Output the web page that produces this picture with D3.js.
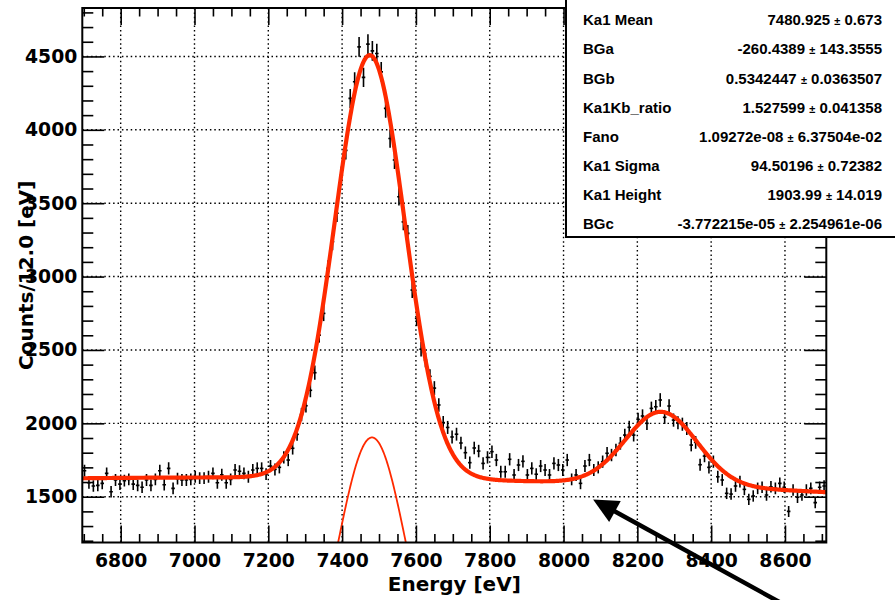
<!DOCTYPE html>
<html>
<head>
<meta charset="utf-8">
<script src="https://cdn.jsdelivr.net/npm/d3@7/dist/d3.min.js"></script>
<style>
  body { margin: 0; background: #fff; }
  svg { display: block; }
</style>
</head>
<body>
<svg id="chart" width="895" height="600"></svg>
<script>
// Histogram binning (12 eV bins)
const binStart = 6696;
const binWidth = 12;

// Counts per 12 eV bin, starting at 6696 eV
const counts = [
  1677, 1595, 1573, 1577, 1591, 1659, 1534, 1614, 1586, 1609,
  1618, 1586, 1577, 1564, 1614, 1577, 1618, 1677, 1582, 1693,
  1557, 1623, 1614, 1614, 1618, 1636, 1627, 1627, 1636, 1659,
  1595, 1650, 1595, 1618, 1682, 1673, 1659, 1636, 1682, 1693,
  1693, 1654, 1709, 1686, 1700, 1768, 1750, 1830, 1925, 2060,
  2120, 2225, 2345, 2601, 2749, 3056, 3237, 3431, 3690, 3860,
  4214, 4327, 4565, 4357, 4584, 4538, 4520, 4395, 4146, 3941,
  3794, 3544, 3373, 3294, 2908, 2715, 2505, 2431, 2320, 2240,
  2125, 2005, 1972, 1907, 1926, 1866, 1800, 1732, 1832, 1811,
  1727, 1768, 1807, 1750, 1670, 1670, 1755, 1648, 1716, 1741,
  1648, 1693, 1653, 1709, 1682, 1648, 1727, 1716, 1682, 1750,
  1618, 1648, 1591, 1709, 1750, 1682, 1700, 1739, 1796, 1784,
  1818, 1864, 1920, 1973, 1920, 2027, 2050, 2000, 2102, 2113,
  2159, 2041, 2118, 2022, 2004, 1994, 1965, 1852, 1870, 1718,
  1777, 1700, 1739, 1636, 1614, 1523, 1518, 1573, 1602, 1550,
  1482, 1505, 1557, 1564, 1512, 1568, 1557, 1591, 1564, 1400,
  1546, 1496, 1512, 1546, 1557, 1460, 1564, 1573
];

// Axis ticks
const xMajorTicks = [6800, 7000, 7200, 7400, 7600, 7800, 8000, 8200, 8400, 8600];
const yMajorTicks = [1500, 2000, 2500, 3000, 3500, 4000, 4500];

// Fit result table
const statNames = ["Ka1 Mean", "BGa", "BGb", "Ka1Kb_ratio", "Fano", "Ka1 Sigma", "Ka1 Height", "BGc"];
const statValues = ["7480.925", "-260.4389", "0.5342447", "1.527599", "1.09272e-08", "94.50196", "1903.99", "-3.772215e-05"];
const statErrors = ["0.673", "143.3555", "0.0363507", "0.041358", "6.37504e-02", "0.72382", "14.019", "2.254961e-06"];

// Fit model parameters
const ka1Mean = 7480.925;
const ka1Sigma = 94.50196;
const ka1Height = 1903.99;
const bgA = -260.4389;
const bgB = 0.5342447;
const bgC = -3.772215e-05;
const ka2Offset = -17.2;   // Ka2 line below Ka1 (eV)
const ka2Ratio = 0.52;     // Ka2 / Ka1 height
const kbMean = 8265;
const kbSigma = 97;
const kbHeight = 500;

const svg = d3.select("#chart");
const W = 895, H = 600;
const frame = { left: 82.3, right: 826.3, top: 8, bottom: 542.5 };

const x = d3.scaleLinear().domain([binStart, binStart + binWidth * counts.length]).range([frame.left, frame.right]);
const y = d3.scaleLinear().domain([1188, 4830]).range([frame.bottom, frame.top]);

svg.append("rect").attr("width", W).attr("height", H).attr("fill", "#fff");

svg.append("defs").append("clipPath").attr("id", "frameClip")
  .append("rect")
  .attr("x", frame.left).attr("y", frame.top)
  .attr("width", frame.right - frame.left).attr("height", frame.bottom - frame.top);

// Dotted grid at major ticks
const grid = svg.append("g");
grid.selectAll("line.gx").data(xMajorTicks).join("line")
  .attr("x1", d => x(d)).attr("x2", d => x(d))
  .attr("y1", frame.top).attr("y2", frame.bottom);
grid.selectAll("line.gy").data(yMajorTicks).join("line")
  .attr("x1", frame.left).attr("x2", frame.right)
  .attr("y1", d => y(d)).attr("y2", d => y(d));
grid.selectAll("line")
  .attr("stroke", "#000").attr("stroke-width", 1.4)
  .attr("stroke-dasharray", "1.5,2.9");

// Data points with Poisson error bars
const bins = counts.map((c, i) => ({ e: binStart + binWidth * (i + 0.5), c }));
const pts = svg.append("g").attr("clip-path", "url(#frameClip)")
  .attr("stroke", "#000").attr("stroke-width", 1.6);
pts.selectAll("line.ev").data(bins).join("line")
  .attr("x1", d => x(d.e)).attr("x2", d => x(d.e))
  .attr("y1", d => y(d.c + Math.sqrt(d.c))).attr("y2", d => y(d.c - Math.sqrt(d.c)));
pts.selectAll("line.eh").data(bins).join("line")
  .attr("x1", d => x(d.e - binWidth * 0.4)).attr("x2", d => x(d.e + binWidth * 0.4))
  .attr("y1", d => y(d.c)).attr("y2", d => y(d.c));

// Fit functions
const gauss = (e, h, m, s) => h * Math.exp(-((e - m) ** 2) / (2 * s * s));
const background = e => bgA + bgB * e + bgC * e * e;
const ka1 = e => gauss(e, ka1Height, ka1Mean, ka1Sigma);
const total = e => background(e) + ka1(e)
  + gauss(e, ka1Height * ka2Ratio, ka1Mean + ka2Offset, ka1Sigma)
  + gauss(e, kbHeight, kbMean, kbSigma);

const eGrid = d3.range(x.domain()[0], x.domain()[1] + 0.01, 2);
const line = f => d3.line().x(e => x(e)).y(e => y(f(e)));

const curves = svg.append("g").attr("clip-path", "url(#frameClip)").attr("fill", "none");
curves.append("path").datum(eGrid.filter(e => e > 7250 && e < 7720))
  .attr("d", line(ka1)).attr("stroke", "#ff2a00").attr("stroke-width", 1.8);
curves.append("path").datum(eGrid)
  .attr("d", line(total)).attr("stroke", "#ff2a00").attr("stroke-width", 4.2)
  .attr("stroke-linejoin", "round");

// Axes (ticks pointing inwards on all four sides)
const axisFont = "'DejaVu Sans', sans-serif";
function styleAxis(g) {
  g.select(".domain").remove();
  g.selectAll(".tick line").attr("stroke", "#000").attr("stroke-width", 1.6);
  g.selectAll("text").attr("fill", "#000")
    .attr("font-family", axisFont).attr("font-weight", "bold").attr("font-size", "18.8px");
}
const xMinor = d3.range(6700, 8701, 50).filter(v => !xMajorTicks.includes(v));
const yMinor = d3.range(1200, 4801, 100).filter(v => !yMajorTicks.includes(v));

svg.append("g").attr("transform", `translate(0,${frame.bottom})`)
  .call(d3.axisBottom(x).tickValues(xMajorTicks).tickSize(-17).tickPadding(11.3).tickFormat(d3.format("d")))
  .call(styleAxis);
svg.append("g").attr("transform", `translate(0,${frame.bottom})`)
  .call(d3.axisBottom(x).tickValues(xMinor).tickSize(-8.5).tickFormat(""))
  .call(styleAxis);
svg.append("g").attr("transform", `translate(0,${frame.top})`)
  .call(d3.axisTop(x).tickValues(xMajorTicks).tickSize(-17).tickFormat(""))
  .call(styleAxis);
svg.append("g").attr("transform", `translate(0,${frame.top})`)
  .call(d3.axisTop(x).tickValues(xMinor).tickSize(-8.5).tickFormat(""))
  .call(styleAxis);

svg.append("g").attr("transform", `translate(${frame.left},0)`)
  .call(d3.axisLeft(y).tickValues(yMajorTicks).tickSize(-22).tickPadding(5).tickFormat(d3.format("d")))
  .call(styleAxis);
svg.append("g").attr("transform", `translate(${frame.left},0)`)
  .call(d3.axisLeft(y).tickValues(yMinor).tickSize(-11).tickFormat(""))
  .call(styleAxis);
svg.append("g").attr("transform", `translate(${frame.right},0)`)
  .call(d3.axisRight(y).tickValues(yMajorTicks).tickSize(-22).tickFormat(""))
  .call(styleAxis);
svg.append("g").attr("transform", `translate(${frame.right},0)`)
  .call(d3.axisRight(y).tickValues(yMinor).tickSize(-11).tickFormat(""))
  .call(styleAxis);

// Frame
svg.append("rect")
  .attr("x", frame.left).attr("y", frame.top)
  .attr("width", frame.right - frame.left).attr("height", frame.bottom - frame.top)
  .attr("fill", "none").attr("stroke", "#000").attr("stroke-width", 2);

// Axis titles
svg.append("text")
  .attr("x", (frame.left + frame.right) / 2).attr("y", 591)
  .attr("text-anchor", "middle")
  .attr("font-family", axisFont).attr("font-weight", "bold").attr("font-size", "20px")
  .text("Energy [eV]");
svg.append("text")
  .attr("transform", `translate(33,${(frame.top + frame.bottom) / 2}) rotate(-90)`)
  .attr("text-anchor", "middle")
  .attr("font-family", axisFont).attr("font-weight", "bold").attr("font-size", "20px")
  .text("Counts/12.0 [eV]");

// Fit statistics box
const box = svg.append("g");
box.append("rect")
  .attr("x", 566).attr("y", -3).attr("width", 340).attr("height", 240)
  .attr("fill", "#fff").attr("stroke", "#000").attr("stroke-width", 2);
const statFont = "'Liberation Sans', Arial, sans-serif";
statNames.forEach((name, i) => {
  const cy = 20 + 29.05 * i + 5.4;
  box.append("text")
    .attr("x", 583).attr("y", cy)
    .attr("font-family", statFont).attr("font-weight", "bold").attr("font-size", "15px")
    .text(name);
  const t = box.append("text")
    .attr("x", 882).attr("y", cy).attr("text-anchor", "end")
    .attr("font-family", statFont).attr("font-weight", "bold").attr("font-size", "15px");
  t.append("tspan").text(statValues[i] + " ");
  t.append("tspan").attr("font-size", "11px").text("\u00b1");
  t.append("tspan").text(" " + statErrors[i]);
});

// Arrow marking the inter-peak background region
const tip = [x(8080), y(1481)];
const dir = [0.876, 0.482];
const headLen = 25, headHalf = 12;
const base = [tip[0] + dir[0] * headLen, tip[1] + dir[1] * headLen];
svg.append("line")
  .attr("x1", base[0] - dir[0] * 2).attr("y1", base[1] - dir[1] * 2)
  .attr("x2", tip[0] + dir[0] * 240).attr("y2", tip[1] + dir[1] * 240)
  .attr("stroke", "#000").attr("stroke-width", 4.5);
svg.append("polygon")
  .attr("points", [
    tip,
    [base[0] - dir[1] * headHalf, base[1] + dir[0] * headHalf],
    [base[0] + dir[1] * headHalf, base[1] - dir[0] * headHalf]
  ].map(p => p.join(",")).join(" "))
  .attr("fill", "#000");
</script>
</body>
</html>
